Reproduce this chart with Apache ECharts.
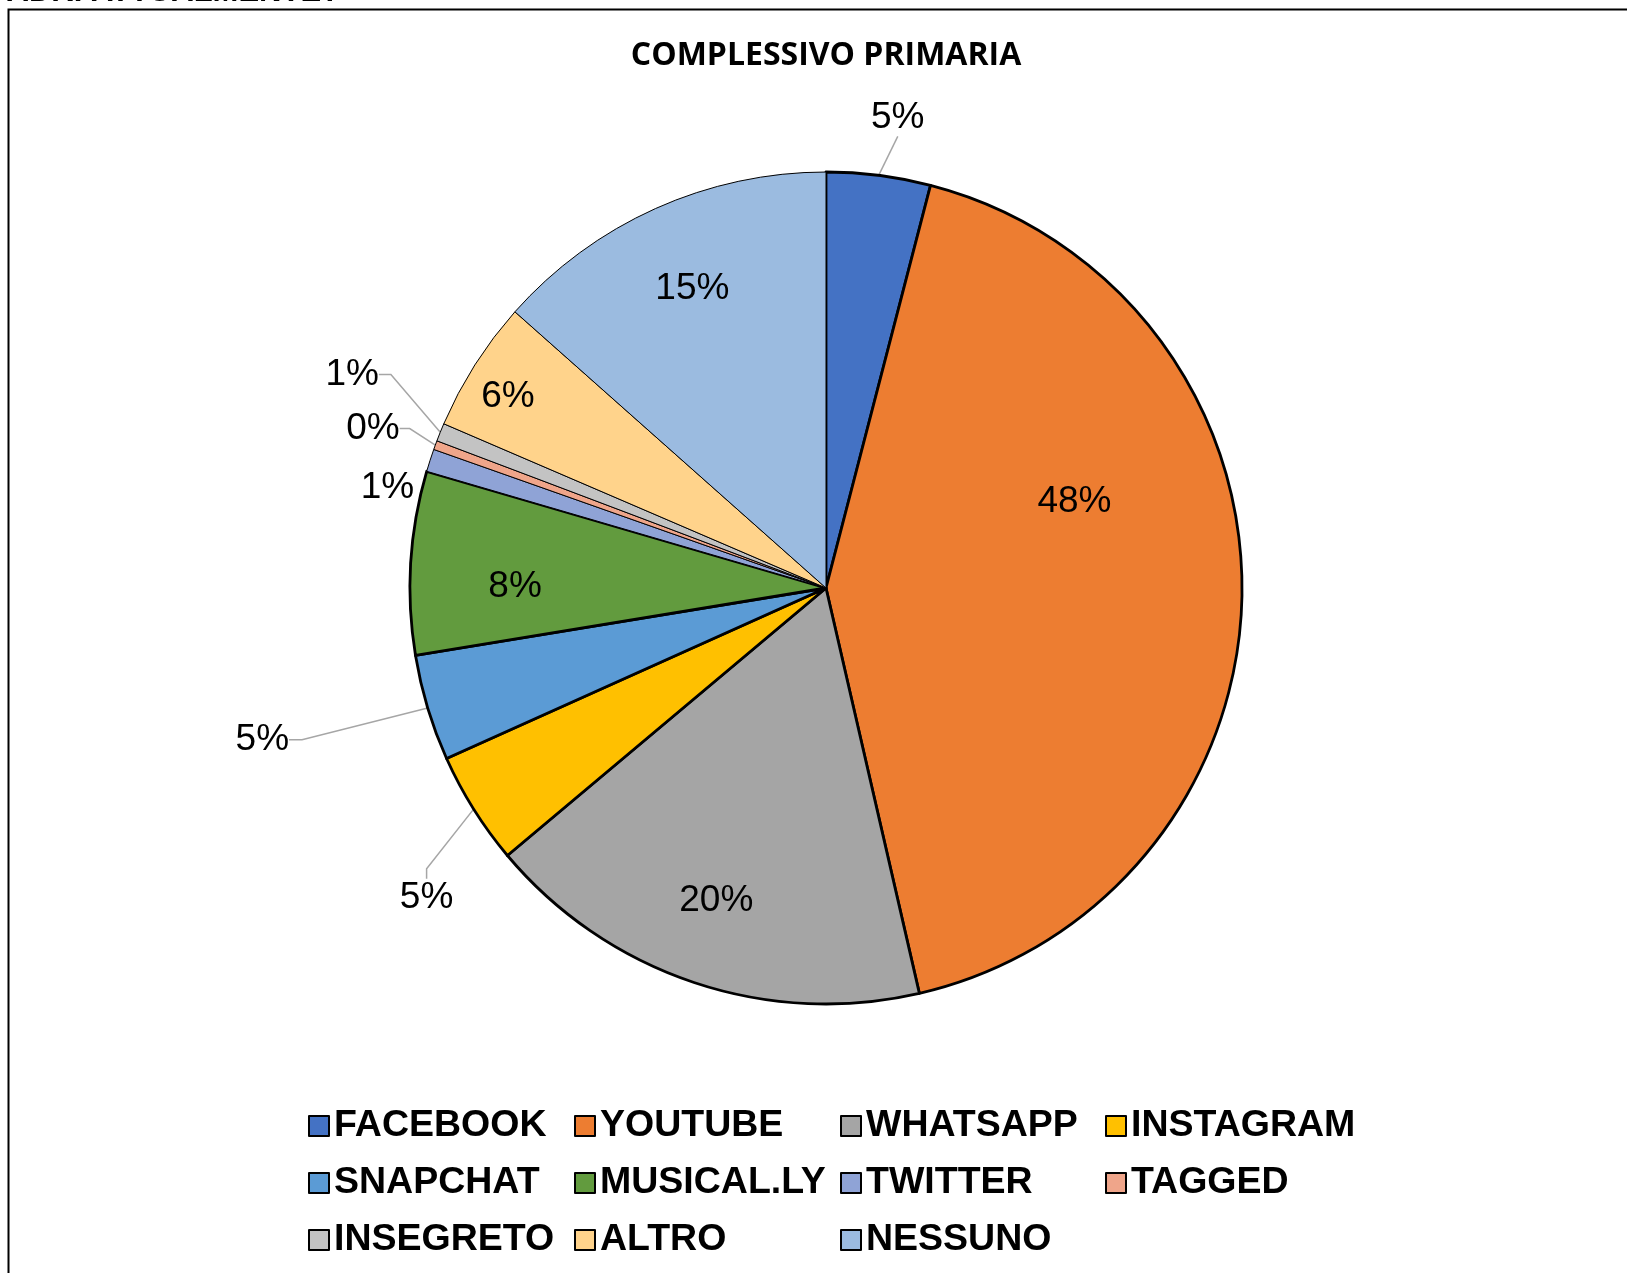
<!DOCTYPE html>
<html><head><meta charset="utf-8">
<script src="https://cdn.jsdelivr.net/npm/echarts@6/dist/echarts.min.js"></script>
<style>html,body{margin:0;padding:0;background:#fff;overflow:hidden}#c{width:1627px;height:1273px}</style>
</head><body><div id="c"></div><script>
// ---- data ----
const categories = ['FACEBOOK','YOUTUBE','WHATSAPP','INSTAGRAM','SNAPCHAT','MUSICAL.LY','TWITTER','TAGGED','INSEGRETO','ALTRO','NESSUNO'];
const percentValues = [4.6, 48.2, 19.9, 5.0, 4.7, 8.1, 1.0, 0.4, 0.8, 5.8, 15.3];
const chartTitle = 'COMPLESSIVO PRIMARIA';
const headerText = 'QUALI SOCIAL USANO I TUOI PADRI ATTUALMENTE?';

// ---- style ----
const colors = ['#4472C4','#ED7D31','#A5A5A5','#FFC000','#5B9BD5','#629B3E','#8FA3D6','#EFA58A','#C3C3C3','#FFD38B','#9BBBE0'];
const borderWidths = [2.8,2.8,2.8,2.8,2.8,2.8,1,1,1,1,1];
const leader = { FACEBOOK:[58,0,true], INSTAGRAM:[70,10,true], SNAPCHAT:[124,13,true], TWITTER:[8,4,false], TAGGED:[22,10,true], INSEGRETO:[50,12,true] };
// label nudges (px) relative to the library's own label placement
const labelNudge = { YOUTUBE:[-75,-91], ALTRO:[-45,-18], 'MUSICAL.LY':[12,18], NESSUNO:[-1,-4], WHATSAPP:[-7,6],
  FACEBOOK:[-19,0], INSTAGRAM:[53,51], SNAPCHAT:[-11,-4], INSEGRETO:[1,-39], TAGGED:[5,-24], TWITTER:[8,-4] };
const insideThreshold = 5.5;
const labelFont = { fontFamily: 'Liberation Sans, Arial, sans-serif', fontSize: 37, color: '#000' };
const CX = 826, CY = 588, R = 416;

const fmt = p => Math.round(p.value) + '%';
const nudge = p => {
  const d = labelNudge[categories[p.dataIndex]];
  if (!d) return {};
  return { x: p.labelRect.x + d[0], y: p.labelRect.y + d[1], align: 'left', verticalAlign: 'top' };
};

const mainData = categories.map((n, i) => {
  const out = percentValues[i] < insideThreshold;
  const l = leader[n] || [20, 10, true];
  return {
    name: n, value: percentValues[i],
    itemStyle: { color: colors[i], borderColor: '#000', borderWidth: borderWidths[i] },
    label: { show: out },
    labelLine: { show: out && l[2], length: l[0], length2: l[1] }
  };
});
const overlayData = categories.map((n, i) => ({
  name: n, value: percentValues[i],
  label: { show: percentValues[i] >= insideThreshold }
}));

// legend columns
const nCols = 4;
const colX = [303, 569, 835, 1100];
const legends = colX.map((x, c) => ({
  orient: 'vertical', left: x, top: 1101,
  data: categories.filter((_, i) => i % nCols === c),
  icon: 'rect', itemWidth: 20, itemHeight: 20, itemGap: 17,
  itemStyle: { borderColor: '#000', borderWidth: 2 },
  textStyle: { fontFamily: 'Liberation Sans, Arial, sans-serif', fontWeight: 'bold', fontSize: 37.5, color: '#000', lineHeight: 40 },
  selectedMode: false
}));

const chart = echarts.init(document.getElementById('c'), null, { renderer: 'canvas' });
chart.setOption({
  backgroundColor: '#fff',
  animation: false,
  legend: legends,
  graphic: [
    { type: 'rect', shape: { x: 8.5, y: 9.5, width: 1700, height: 1400 }, style: { fill: 'none', stroke: '#000', lineWidth: 2 }, silent: true },
    { type: 'text', style: { x: 340, y: 7.5, text: headerText, align: 'right', verticalAlign: 'bottom', font: 'bold 31px Liberation Sans, Arial, sans-serif', fill: '#000' }, silent: true },
    { type: 'text', style: { x: CX, y: 56, text: chartTitle, align: 'center', verticalAlign: 'middle', font: 'bold 32px Open Sans, sans-serif', fill: '#000' }, silent: true }
  ],
  series: [
    {
      type: 'pie', center: [CX, CY], radius: [0, R], startAngle: 90, clockwise: true,
      avoidLabelOverlap: true, emphasis: { disabled: true },
      data: mainData,
      label: Object.assign({ position: 'outside', formatter: fmt, distanceToLabelLine: 4 }, labelFont),
      labelLine: { smooth: false, lineStyle: { color: '#A6A6A6', width: 1.5 } },
      labelLayout: nudge
    },
    {
      type: 'pie', center: [CX, CY], radius: [225, R], startAngle: 90, clockwise: true,
      silent: true, emphasis: { disabled: true },
      itemStyle: { color: 'rgba(0,0,0,0)', borderWidth: 0 },
      data: overlayData,
      label: Object.assign({ position: 'inside', formatter: fmt }, labelFont),
      labelLine: { show: false },
      labelLayout: nudge
    }
  ]
});
</script></body></html>
